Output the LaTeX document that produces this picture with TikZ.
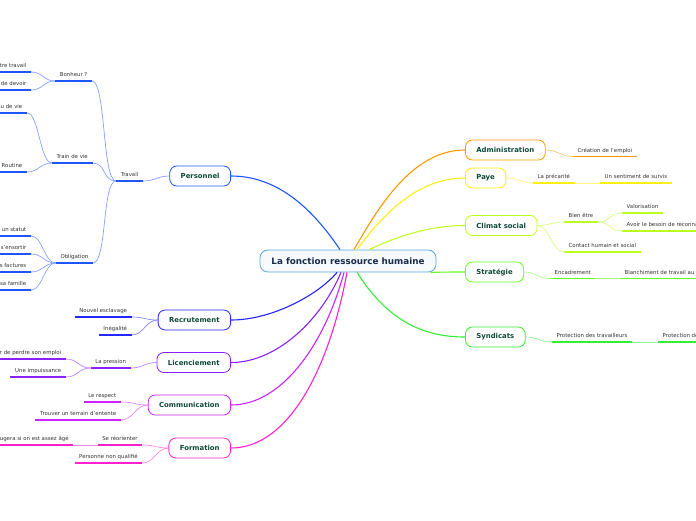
\documentclass[tikz,border=0pt]{standalone}
\usepackage{fontspec}
\setmainfont{DejaVu Sans}
\usetikzlibrary{calc}
\definecolor{cRoot}{HTML}{5AA4DC}
\definecolor{cRootTxt}{HTML}{1A2A4A}
\definecolor{cTopicTxt}{HTML}{0E4A3A}
\definecolor{cLeafTxt}{HTML}{333333}
\definecolor{cPers}{HTML}{1F55FF}
\definecolor{cRecr}{HTML}{2626FF}
\definecolor{cLic}{HTML}{8A22FF}
\definecolor{cComm}{HTML}{CC22FF}
\definecolor{cForm}{HTML}{FF22CC}
\definecolor{cAdm}{HTML}{FF9900}
\definecolor{cPaye}{HTML}{FFEE11}
\definecolor{cClim}{HTML}{BBFF22}
\definecolor{cStrat}{HTML}{66FF22}
\definecolor{cSynd}{HTML}{33EE33}
\def\uline[#1](#2){\draw[#1] (#2.south west) -- (#2.south east);}
\tikzset{
	root/.style={draw=cRoot, line width=0.8pt, rounded corners=8pt, fill=cRoot!5, inner xsep=11.5pt, minimum height=22pt, text=cRootTxt, font=\bfseries\fontsize{8.8}{10}\selectfont},
	topic/.style={draw=#1, line width=0.8pt, rounded corners=7pt, fill=white, inner xsep=11pt, minimum height=20pt, text=cTopicTxt, font=\bfseries\fontsize{6.9}{8}\selectfont},
	leaf/.style={inner xsep=4.5pt, inner ysep=2.8pt, text height=4pt, text depth=1.2pt, text=cLeafTxt, font=\fontsize{5.4}{6}\selectfont},
	ul/.style={draw=#1, line width=1.3pt},
	link/.style={draw=#1!55!white, line width=0.7pt},
	trunk/.style={draw=#1, line width=1.1pt}
}
\begin{document}
\begin{tikzpicture}[x=1pt, y=-1pt]
			%%%%% START %%%%%
			\useasboundingbox (0, 0) rectangle (696, 520);
			\clip (0, 0) rectangle (696, 520);
			
			\node[root] (root) at (348, 261) {La fonction ressource humaine};
			
			\node[topic=cPers, anchor=east] (pers) at (231, 176) {Personnel};
			\node[topic=cRecr, anchor=east] (recr) at (231, 320) {Recrutement};
			\node[topic=cLic, anchor=east] (lic) at (231, 362.5) {Licenciement};
			\node[topic=cComm, anchor=east] (comm) at (231, 405) {Communication};
			\node[topic=cForm, anchor=east] (form) at (231, 448) {Formation};
			\node[topic=cAdm, anchor=west] (adm) at (465, 150) {Administration};
			\node[topic=cPaye, anchor=west] (paye) at (465, 178) {Paye};
			\node[topic=cClim, anchor=west] (clim) at (465, 225.5) {Climat social};
			\node[topic=cStrat, anchor=west] (strat) at (465, 272) {Stratégie};
			\node[topic=cSynd, anchor=west] (synd) at (465, 337) {Syndicats};
			
			\draw[trunk=cPers] ([xshift=-8pt]root.north) .. controls (310, 205) and (275, 176) .. (pers.east);
			\draw[trunk=cRecr] ([xshift=-11pt]root.south) .. controls (318, 295) and (272, 320) .. (recr.east);
			\draw[trunk=cLic] ([xshift=-7pt]root.south) .. controls (322, 318) and (278, 362.5) .. (lic.east);
			\draw[trunk=cComm] ([xshift=-4pt]root.south) .. controls (326, 340) and (284, 405) .. (comm.east);
			\draw[trunk=cForm] ([xshift=-1pt]root.south) .. controls (330, 365) and (290, 448) .. (form.east);
			\draw[trunk=cAdm] ([xshift=6pt]root.north) .. controls (378, 208) and (412, 150) .. (adm.west);
			\draw[trunk=cPaye] ([xshift=9pt]root.north) .. controls (386, 210) and (420, 178) .. (paye.west);
			\draw[trunk=cClim] ([xshift=21pt]root.north) .. controls (398, 236) and (430, 225.5) .. (clim.west);
			\draw[trunk=cStrat] ([xshift=-6pt]root.south east) .. controls (446, 272) and (452, 272) .. (strat.west);
			\draw[trunk=cSynd] ([xshift=9pt]root.south) .. controls (386, 318) and (420, 337) .. (synd.west);
			
			% Personnel
			\node[leaf, anchor=south east] (travail) at (143, 181) {Travail};
			\node[leaf, anchor=south east] (bonheur) at (92, 81) {Bonheur ?};
			\node[leaf, anchor=south east] (train) at (92.5, 163) {Train de vie};
			\node[leaf, anchor=south east] (oblig) at (93, 263) {Obligation};
			\node[leaf, anchor=south east] (aimer) at (31, 72) {Aimer votre travail};
			\node[leaf, anchor=south east] (devoir) at (31, 90) {Sentiment de devoir};
			\node[leaf, anchor=south east] (niveau) at (27, 113) {Niveau de vie};
			\node[leaf, anchor=south east] (routine) at (27, 172) {Routine};
			\node[leaf, anchor=south east] (statut) at (31, 236) {Avoir un statut};
			\node[leaf, anchor=south east] (ensortir) at (31, 254) {Pour s'ensortir};
			\node[leaf, anchor=south east] (factures) at (31, 272) {Payer les factures};
			\node[leaf, anchor=south east] (famille) at (31, 290) {Nourrir sa famille};
			\draw[link=cPers] (pers.west) .. controls +(-12, 0) and +(12, 0) .. (travail.south east);
			\foreach \n in {bonheur, train, oblig}
				\draw[link=cPers] (travail.south west) .. controls +(-14, 0) and +(14, 0) .. (\n.south east);
			\foreach \n in {aimer, devoir}
				\draw[link=cPers] (bonheur.south west) .. controls +(-12, 0) and +(12, 0) .. (\n.south east);
			\foreach \n in {niveau, routine}
				\draw[link=cPers] (train.south west) .. controls +(-12, 0) and +(12, 0) .. (\n.south east);
			\foreach \n in {statut, ensortir, factures, famille}
				\draw[link=cPers] (oblig.south west) .. controls +(-12, 0) and +(12, 0) .. (\n.south east);
			\foreach \n in {travail, bonheur, train, oblig, aimer, devoir, niveau, routine, statut, ensortir, factures, famille}
				\uline[ul=cPers](\n);
			
			% Recrutement
			\node[leaf, anchor=south east] (esclav) at (131.7, 317) {Nouvel esclavage};
			\node[leaf, anchor=south east] (inegal) at (131.7, 335) {Inégalité};
			\foreach \n in {esclav, inegal} {
				\draw[link=cRecr] (recr.west) .. controls +(-12, 0) and +(12, 0) .. (\n.south east);
				\uline[ul=cRecr](\n);
			}
			
			% Licenciement
			\node[leaf, anchor=south east] (pression) at (130.7, 368) {La pression};
			\node[leaf, anchor=south east] (peur) at (66, 359) {La peur de perdre son emploi};
			\node[leaf, anchor=south east] (impuiss) at (66, 377) {Une impuissance};
			\draw[link=cLic] (lic.west) .. controls +(-12, 0) and +(12, 0) .. (pression.south east);
			\foreach \n in {peur, impuiss}
				\draw[link=cLic] (pression.south west) .. controls +(-12, 0) and +(12, 0) .. (\n.south east);
			\foreach \n in {pression, peur, impuiss}
				\uline[ul=cLic](\n);
			
			% Communication
			\node[leaf, anchor=south east] (respect) at (121, 402) {Le respect};
			\node[leaf, anchor=south east] (entente) at (121, 420) {Trouver un terrain d'entente};
			\foreach \n in {respect, entente} {
				\draw[link=cComm] (comm.west) .. controls +(-12, 0) and +(12, 0) .. (\n.south east);
				\uline[ul=cComm](\n);
			}
			
			% Formation
			\node[leaf, anchor=south east] (reorient) at (142.3, 445) {Se réorienter};
			\node[leaf, anchor=south east] (bouger) at (73.3, 445) {On bougera si on est assez âgé};
			\node[leaf, anchor=south east] (nonqual) at (142.3, 463) {Personne non qualifié};
			\draw[link=cForm] (form.west) .. controls +(-12, 0) and +(12, 0) .. (reorient.south east);
			\draw[link=cForm] (form.west) .. controls +(-12, 0) and +(12, 0) .. (nonqual.south east);
			\draw[link=cForm] (reorient.south west) -- (bouger.south east);
			\foreach \n in {reorient, bouger, nonqual}
				\uline[ul=cForm](\n);
			
			% Administration
			\node[leaf, anchor=south west] (creation) at (573, 156.5) {Création de l'emploi};
			\draw[link=cAdm] (adm.east) .. controls +(12, 0) and +(-12, 0) .. (creation.south west);
			\uline[ul=cAdm](creation);
			
			% Paye
			\node[leaf, anchor=south west] (precar) at (533, 183) {La précarité};
			\node[leaf, anchor=south west] (survis) at (600, 183) {Un sentiment de survis};
			\draw[link=cPaye] (paye.east) .. controls +(12, 0) and +(-12, 0) .. (precar.south west);
			\draw[link=cPaye] (precar.south east) -- (survis.south west);
			\foreach \n in {precar, survis}
				\uline[ul=cPaye](\n);
			
			% Climat social
			\node[leaf, anchor=south west] (bienetre) at (564, 222) {Bien être};
			\node[leaf, anchor=south west] (valor) at (622, 213) {Valorisation};
			\node[leaf, anchor=south west] (reconn) at (622, 231) {Avoir le besoin de reconnaissance};
			\node[leaf, anchor=south west] (contact) at (564, 252) {Contact humain et social};
			\foreach \n in {bienetre, contact}
				\draw[link=cClim] (clim.east) .. controls +(12, 0) and +(-12, 0) .. (\n.south west);
			\foreach \n in {valor, reconn}
				\draw[link=cClim] (bienetre.south east) .. controls +(12, 0) and +(-12, 0) .. (\n.south west);
			\foreach \n in {bienetre, valor, reconn, contact}
				\uline[ul=cClim](\n);
			
			% Strategie
			\node[leaf, anchor=south west] (encadr) at (550, 278.5) {Encadrement};
			\node[leaf, anchor=south west] (blanch) at (620, 278.5) {Blanchiment de travail au noir};
			\draw[link=cStrat] (strat.east) .. controls +(12, 0) and +(-12, 0) .. (encadr.south west);
			\draw[link=cStrat] (encadr.south east) -- (blanch.south west);
			\foreach \n in {encadr, blanch}
				\uline[ul=cStrat](\n);
			
			% Syndicats
			\node[leaf, anchor=south west] (protect) at (552, 342) {Protection des travailleurs};
			\node[leaf, anchor=south west] (protemp) at (658, 342) {Protection de l'emploi};
			\draw[link=cSynd] (synd.east) .. controls +(12, 0) and +(-12, 0) .. (protect.south west);
			\draw[link=cSynd] (protect.south east) -- (protemp.south west);
			\foreach \n in {protect, protemp}
				\uline[ul=cSynd](\n);
			
			%%%%% END %%%%%
\end{tikzpicture}
\end{document}
